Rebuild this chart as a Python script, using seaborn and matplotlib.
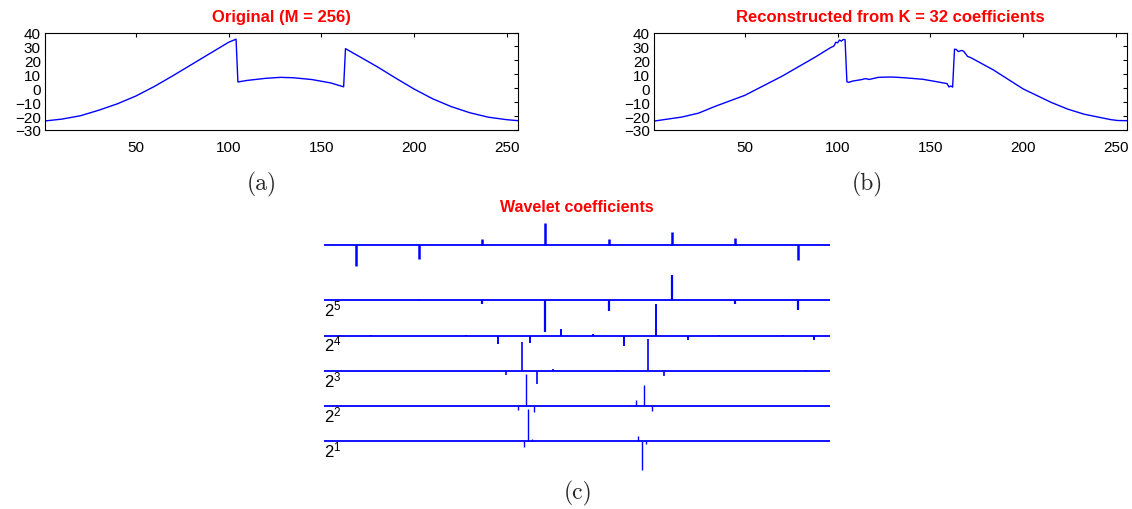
import numpy as np
import matplotlib
matplotlib.use("Agg")
import matplotlib.pyplot as plt
import seaborn as sns

# Panel (a): original signal, samples
orig_t = [1, 10, 20, 30, 40, 50, 60, 70, 80, 90, 100, 104, 105, 110, 120, 128,
          135, 145, 155, 162, 163, 170, 180, 190, 200, 210, 220, 230, 240, 250, 256]
orig_v = [-23.5, -22.2, -19.8, -15.8, -11.2, -5.6, 1.3, 9.0, 17.0, 25.0, 33.0, 35.2,
          4.5, 5.6, 7.1, 7.8, 7.5, 6.2, 3.8, 1.0, 28.4, 23.1, 15.5, 7.3, -0.6, -7.6,
          -13.2, -17.6, -20.8, -22.6, -23.3]

# Panel (b): reconstruction from K = 32 coefficients
rec_t = [1, 16, 25, 34, 50, 70, 88, 96, 98, 99, 100, 101, 102, 103, 104, 105, 106,
         108, 113, 115, 117, 122, 127, 130, 136, 146, 152, 159, 160, 161, 162, 163,
         164, 165, 166, 167, 168, 170, 172, 184, 200, 215, 224, 233, 247, 251, 256]
rec_v = [-23.6, -20.7, -17.9, -13.0, -5.1, 8.6, 22.4, 29.0, 30.3, 33.0, 32.6, 34.6,
         33.8, 35.0, 34.8, 4.6, 4.2, 5.1, 6.2, 6.9, 6.3, 7.8, 8.0, 8.0, 7.5, 6.4, 5.0,
         3.3, 0.9, 1.6, 0.8, 28.0, 27.8, 26.3, 26.8, 27.1, 26.5, 22.9, 21.8, 13.1,
         -0.5, -10.1, -15.0, -18.7, -22.5, -23.2, -23.3]

# Panel (c): wavelet coefficients (display units), coarse -> fine
scaling_coefs = [-21, -14, 5.3, 22, 5.3, 12.7, 6.3, -15]
detail_2p5 = [0.7, -1, -3.5, -32, -10.7, 25.3, -3.5, -10]
detail_2p4 = [0.7, 0.7, 0, 0, 0.7, -8.7, -7, 6.7, 1.7, -10.7, 31.3, -4.7, 0.5, 0, 0.7, -4]
# finer levels are sparse: index -> value
detail_2p3_idx = [10, 11, 12, 13, 14, 18, 19, 20, 21, 22, 30, 31]
detail_2p3_val = [0.5, -4, 29, -12.7, 2, 1, 0.5, 32, -4.7, 0.5, 0.7, -1]
detail_2p2_idx = [24, 25, 26, 27, 39, 40, 41, 63]
detail_2p2_val = [-4, 32.7, -5.7, 0.7, 6.7, 21.3, -4.7, 0.5]
detail_2p1_idx = [50, 51, 52, 79, 80, 81]
detail_2p1_val = [-5.7, 32, 2.3, 5.3, -29, -2.3]
level_labels = ['$2^5$', '$2^4$', '$2^3$', '$2^2$', '$2^1$']

sns.set_style('white')
plt.rcParams['font.family'] = ['Liberation Sans', 'DejaVu Sans']
plt.rcParams['mathtext.default'] = 'regular'

W, H = 1132, 510
fig = plt.figure(figsize=(W / 100, H / 100), dpi=100)
blue = '#0000ff'


def px_axes(x0, y0, x1, y1):
    return fig.add_axes([x0 / W, 1 - y1 / H, (x1 - x0) / W, (y1 - y0) / H])


panels = [
    (45, 518, orig_t, orig_v, 'Original (M = 256)', '(a)', 262),
    (654, 1127, rec_t, rec_v, 'Reconstructed from K = 32 coefficients', '(b)', 867),
]
for x0, x1, t, v, title, lab, labx in panels:
    ax = px_axes(x0, 33.5, x1, 131)
    sns.lineplot(x=t, y=v, ax=ax, color=blue, linewidth=1.0)
    ax.set_xlim(1, 256)
    ax.set_ylim(-30, 40)
    ax.set_xticks([50, 100, 150, 200, 250])
    ax.set_yticks(range(-30, 41, 10))
    ax.tick_params(direction='in', top=True, right=True, length=3, width=0.8,
                   labelsize=11, colors='black')
    ax.tick_params(axis='x', pad=7)
    ax.tick_params(axis='y', pad=3)
    for s in ax.spines.values():
        s.set_linewidth(0.8)
        s.set_color('black')
    ax.set_xlabel('')
    ax.set_ylabel('')
    ax.set_title(title, color='red', fontweight='bold', fontsize=12, pad=8)
    fig.text(labx / W, 1 - 184 / H, lab, family='cmr10', fontsize=17,
             ha='center', va='center')

# wavelet coefficient panel
ax3 = px_axes(324, 215, 830, 475)
ax3.axis('off')
ax3.set_xlim(0, 1)
ax3.set_ylim(-229.3, 30.7)


def dense(n, idx, val):
    out = np.zeros(n)
    out[idx] = val
    return out


rows = [
    (np.array(scaling_coefs), 0.0, 1.8),
    (np.array(detail_2p5), -55.6, 1.6),
    (np.array(detail_2p4), -91.0, 1.4),
    (dense(32, detail_2p3_idx, detail_2p3_val), -126.3, 1.2),
    (dense(64, detail_2p2_idx, detail_2p2_val), -161.6, 1.0),
    (dense(128, detail_2p1_idx, detail_2p1_val), -196.6, 1.0),
]
for k, (vals, base, lw) in enumerate(rows):
    n = len(vals)
    pos = (np.arange(n) + 0.5) / n
    ax3.hlines(base, 0, 1, color=blue, linewidth=1.3)
    nz = vals != 0
    ax3.vlines(pos[nz], base, base + vals[nz], color=blue, linewidth=lw)
    if k > 0:
        ax3.text(0, base - 15, level_labels[k - 1], ha='left', va='baseline',
                 fontsize=12, color='black')

fig.text(577 / W, 1 - 212 / H, 'Wavelet coefficients', color='red',
         fontweight='bold', fontsize=11.5, ha='center', va='baseline')
fig.text(578 / W, 1 - 493 / H, '(c)', family='cmr10', fontsize=17,
         ha='center', va='center')

fig.savefig('out.png', dpi=100)
